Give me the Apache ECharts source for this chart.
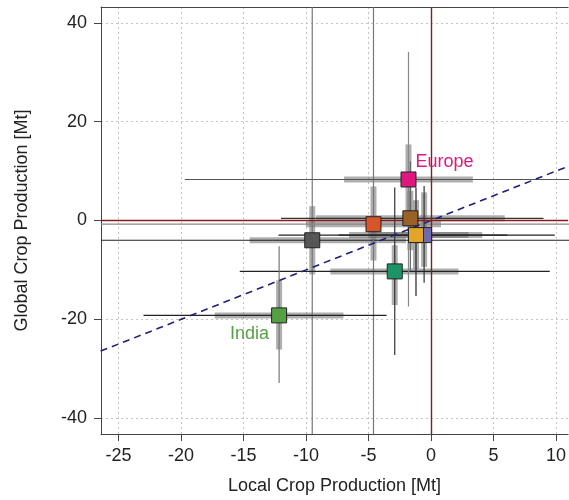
<!DOCTYPE html>
<html>
<head>
<meta charset="utf-8">
<script src="https://cdn.jsdelivr.net/npm/echarts@6/dist/echarts.min.js"></script>
<style>
html, body { margin: 0; padding: 0; background: #fff; }
#chart { width: 569px; height: 500px; }
</style>
</head>
<body>
<div id="chart"></div>
<script>
// regions (drawing order)
var regionNames = ['', '', '', '', '', '', 'Europe', 'India'];
var regionColors = ['#565656', '#D6552A', '#9A6226', '#6F69B0', '#E3A428', '#1C9468', '#E0187E', '#56A044'];
// colour of the thin range lines, horizontal / vertical
var hLineColors = ['#222', '#888', '#333', '#222', '#222', '#222', '#555', '#222'];
var vLineColors = ['#777', '#777', '#666', '#333', '#222', '#333', '#888', '#777'];

// median change, local (x) and global (y)
var xMid = [-9.5, -4.6, -1.65, -0.55, -1.2, -2.9, -1.8, -12.15];
var yMid = [-4.0, -0.75, 0.45, -2.95, -2.95, -10.3, 8.3, -19.2];

// full range
var xMin = [-30, -30, -12, -12.2, -7.4, -15.3, -19.7, -23.0];
var xMax = [15, 15, 9, 9.9, 6.1, 9.5, 15, -3.55];
var yMin = [-50, -50, -10, -12.6, -15.3, -27.2, -17.4, -32.9];
var yMax = [50, 50, 12, 7.0, 6.7, 6.7, 34.1, -5.2];

// inner range
var xLow = [-14.5, -10, -9.2, -5, -6.55, -8.05, -6.95, -17.3];
var xHigh = [-2, 0.8, 5.9, 3, 4.1, 2.2, 3.35, -7.0];
var yLow = [-10.9, -8.1, -6, -9.4, -9.8, -17.1, 1, -26.1];
var yHigh = [2.9, 6.9, 6, 5.7, 4.1, -5, 15.4, -12.1];

var xTicks = [-25, -20, -15, -10, -5, 0, 5, 10];
var yTicks = [-40, -20, 0, 20, 40];
var oneToOne = [-30, 15];

var font = 'Liberation Sans, Arial, sans-serif';
var xLim = [-26.4, 10.97];
var yLim = [-43.2, 43.2];

var myChart = echarts.init(document.getElementById('chart'));

var barData = [];
var rangeData = [];
var pointData = [];
for (var i = 0; i < xMid.length; i++) {
    barData.push([xMid[i], yMid[i], xLow[i], xHigh[i], yLow[i], yHigh[i]]);
    rangeData.push([xMid[i], yMid[i], xMin[i], xMax[i], yMin[i], yMax[i]]);
    pointData.push({
        value: [xMid[i], yMid[i]],
        name: regionNames[i],
        itemStyle: { color: regionColors[i] },
        label: { color: regionColors[i] }
    });
}

//画十字误差线
function crossRender(width, hColors, vColors) {
    return function (params, api) {
        var y = api.value(1), x = api.value(0);
        var a = api.coord([api.value(2), y]);
        var b = api.coord([api.value(3), y]);
        var c = api.coord([x, api.value(4)]);
        var d = api.coord([x, api.value(5)]);
        var k = params.dataIndex;
        return {
            type: 'group',
            children: [
                { type: 'line', shape: { x1: a[0], y1: a[1], x2: b[0], y2: b[1] },
                  style: { stroke: hColors[k], lineWidth: width, fill: null } },
                { type: 'line', shape: { x1: c[0], y1: c[1], x2: d[0], y2: d[1] },
                  style: { stroke: vColors[k], lineWidth: width, fill: null } }
            ]
        };
    };
}

var barColors = [];
for (var i = 0; i < xMid.length; i++) barColors.push('rgba(110,110,110,0.55)');

var borderLine = { show: true, onZero: false, lineStyle: { color: '#444', width: 1 } };

var option = {
    animation: false,
    grid: { left: 101, top: 7, right: 0, bottom: 64 },
    xAxis: [{
        type: 'value',
        min: xLim[0], max: xLim[1],
        name: 'Local Crop Production [Mt]',
        nameLocation: 'middle',
        nameGap: 43,
        nameTextStyle: { fontFamily: font, fontSize: 18, color: '#222' },
        axisLine: borderLine,
        axisTick: { show: true, length: 7, lineStyle: { color: '#444' }, customValues: xTicks },
        axisLabel: { customValues: xTicks, margin: 13, fontFamily: font, fontSize: 18, color: '#222' },
        splitLine: { show: true, lineStyle: { color: '#c4c4c4', type: [2, 3], width: 1 } }
    }, {
        //上边框
        type: 'value',
        position: 'top',
        min: xLim[0], max: xLim[1],
        axisLine: borderLine,
        axisTick: { show: false },
        axisLabel: { show: false },
        splitLine: { show: false }
    }],
    yAxis: {
        type: 'value',
        min: yLim[0], max: yLim[1],
        name: 'Global Crop Production [Mt]',
        nameLocation: 'middle',
        nameGap: 70,
        nameTextStyle: { fontFamily: font, fontSize: 18, color: '#222' },
        axisLine: borderLine,
        axisTick: { show: true, length: 7, lineStyle: { color: '#444' }, customValues: yTicks },
        axisLabel: { customValues: yTicks, margin: 14, fontFamily: font, fontSize: 18, color: '#222' },
        splitLine: { show: true, lineStyle: { color: '#c4c4c4', type: [2, 3], width: 1 } }
    },
    series: [
        {
            type: 'line',
            data: [],
            silent: true,
            markLine: {
                symbol: 'none',
                silent: true,
                label: { show: false },
                lineStyle: { color: '#8B1A1A', type: 'solid', width: 1.4 },
                data: [{ xAxis: 0 }, { yAxis: 0 }]
            },
            z: 1
        },
        {
            type: 'custom',
            renderItem: crossRender(6, barColors, barColors),
            data: barData,
            clip: true,
            z: 2
        },
        {
            type: 'custom',
            renderItem: crossRender(1.2, hLineColors, vLineColors),
            data: rangeData,
            clip: true,
            z: 3
        },
        {
            type: 'line',
            data: [[oneToOne[0], oneToOne[0]], [oneToOne[1], oneToOne[1]]],
            symbol: 'none',
            clip: true,
            lineStyle: { color: '#1F1F78', width: 1.6, type: [7, 5] },
            z: 4
        },
        {
            type: 'scatter',
            symbol: 'rect',
            symbolSize: 15,
            data: pointData,
            itemStyle: { borderColor: '#222', borderWidth: 1, opacity: 1 },
            label: {
                show: true,
                formatter: '{b}',
                fontFamily: font,
                fontSize: 18
            },
            labelLayout: function (params) {
                if (params.text === 'Europe') {
                    return { x: params.rect.x + 15, y: params.rect.y - 9, align: 'left', verticalAlign: 'middle' };
                }
                return { x: params.rect.x - 2, y: params.rect.y + 27, align: 'right', verticalAlign: 'middle' };
            },
            z: 5
        }
    ]
};
myChart.setOption(option);
</script>
</body>
</html>
